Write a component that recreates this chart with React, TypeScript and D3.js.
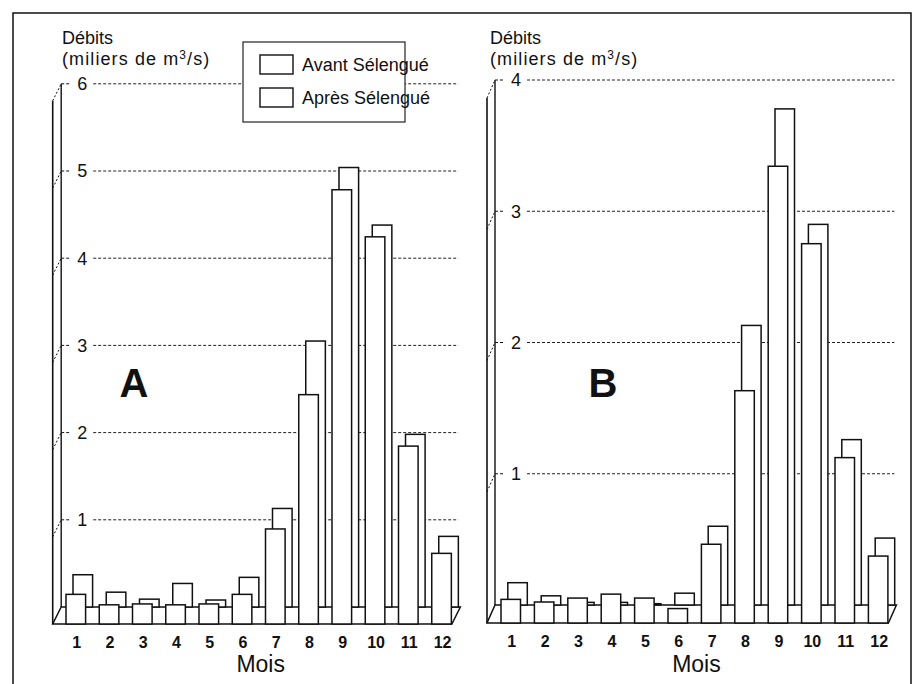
import React, { useEffect, useRef } from "react";
import * as d3 from "d3";

// Débits mensuels (milliers de m3/s)
const months = ["1", "2", "3", "4", "5", "6", "7", "8", "9", "10", "11", "12"];
const legendLabels = ["Avant Sélengué", "Après Sélengué"];

const avantA = [0.34, 0.22, 0.23, 0.22, 0.23, 0.34, 1.09, 2.63, 4.98, 4.44, 2.04, 0.81];
const apresA = [0.37, 0.17, 0.09, 0.27, 0.08, 0.34, 1.13, 3.05, 5.04, 4.38, 1.98, 0.81];
const avantB = [0.18, 0.16, 0.19, 0.22, 0.19, 0.11, 0.6, 1.77, 3.48, 2.89, 1.26, 0.51];
const apresB = [0.17, 0.07, 0.02, 0.02, 0.01, 0.09, 0.6, 2.13, 3.78, 2.9, 1.26, 0.51];

const ticksA = [1, 2, 3, 4, 5, 6];
const ticksB = [1, 2, 3, 4];

const W = 919, H = 684;
const FONT = '"Liberation Sans", Arial, Helvetica, sans-serif';
const INK = "#111";

const panels = [
  {
    name: "A", front: avantA, back: apresA, ticks: ticksA, yMax: 6,
    wallX: 52.7, backBase: 607, top: 83.8, dx: 8.5, dy: 17,
    barX0: 66, step: 33.25, barW: 19.6, barDx: 7, titleX: 62, letterX: 134,
  },
  {
    name: "B", front: avantB, back: apresB, ticks: ticksB, yMax: 4,
    wallX: 487, backBase: 605, top: 80, dx: 8, dy: 18,
    barX0: 501, step: 33.4, barW: 19.5, barDx: 6.8, titleX: 490, letterX: 603,
  },
];

const App = () => {
  const svgRef = useRef<SVGSVGElement>(null);

  useEffect(() => {
    const svg = d3.select(svgRef.current).html("");

    svg.append("rect").attr("width", W).attr("height", H).attr("fill", "#fff");

    // outer frame
    svg.append("path")
      .attr("d", "M13,684 L13,13 L911,13 L911,684")
      .attr("fill", "none")
      .attr("stroke", INK)
      .attr("stroke-width", 1.5);

    panels.forEach((p) => {
      const g = svg.append("g");
      const frontBase = p.backBase + p.dy;
      const wallBack = p.wallX + p.dx;

      const y = d3.scaleLinear().domain([0, p.yMax]).range([p.backBase, p.top]);
      const pad = 1 - p.barW / p.step;
      const r0 = p.barX0 - (p.step - p.barW) / 2;
      const x = d3.scaleBand<string>()
        .domain(months)
        .range([r0, r0 + months.length * p.step])
        .paddingInner(pad)
        .paddingOuter(pad / 2);
      const bw = x.bandwidth();
      const frontRight = (x(months[months.length - 1]) as number) + bw + 0.5;
      const backRight = frontRight + p.dx;

      // gridlines + ticks
      const tg = g.append("g");
      p.ticks.forEach((t) => {
        const yy = y(t);
        tg.append("line")
          .attr("x1", p.wallX).attr("y1", yy + p.dy)
          .attr("x2", wallBack).attr("y2", yy)
          .attr("stroke", INK).attr("stroke-width", 1).attr("stroke-dasharray", "2,2");
        tg.append("line")
          .attr("x1", wallBack).attr("y1", yy)
          .attr("x2", wallBack + 8).attr("y2", yy)
          .attr("stroke", INK).attr("stroke-width", 1).attr("stroke-dasharray", "3,2");
        tg.append("line")
          .attr("x1", wallBack + 32).attr("y1", yy)
          .attr("x2", backRight - 2).attr("y2", yy)
          .attr("stroke", "#222").attr("stroke-width", 1).attr("stroke-dasharray", "3,2");
        tg.append("text")
          .attr("x", wallBack + 21).attr("y", yy)
          .attr("dy", "0.36em")
          .attr("text-anchor", "middle")
          .style("font-family", FONT).style("font-size", "18px")
          .attr("fill", INK)
          .text(t);
      });

      // left wall
      g.append("line")
        .attr("x1", p.wallX).attr("y1", frontBase)
        .attr("x2", p.wallX).attr("y2", y(p.yMax) + p.dy)
        .attr("stroke", INK).attr("stroke-width", 1.6);
      g.append("line")
        .attr("x1", wallBack).attr("y1", p.backBase)
        .attr("x2", wallBack).attr("y2", y(p.yMax))
        .attr("stroke", INK).attr("stroke-width", 1.4);

      // floor
      g.append("path")
        .attr("d", `M${p.wallX},${frontBase} L${frontRight},${frontBase} L${backRight},${p.backBase} L${wallBack},${p.backBase} Z`)
        .attr("fill", "#fff")
        .attr("stroke", INK)
        .attr("stroke-width", 1.5);

      // back row (Après)
      g.append("g")
        .selectAll("rect")
        .data(p.back)
        .enter()
        .append("rect")
        .attr("x", (_, i) => (x(months[i]) as number) + p.barDx)
        .attr("y", (d) => y(d))
        .attr("width", bw)
        .attr("height", (d) => p.backBase - y(d))
        .attr("fill", "#fff")
        .attr("stroke", INK)
        .attr("stroke-width", 1.5);

      // front row (Avant)
      g.append("g")
        .selectAll("rect")
        .data(p.front)
        .enter()
        .append("rect")
        .attr("x", (_, i) => x(months[i]) as number)
        .attr("y", (d) => y(d) + p.dy)
        .attr("width", bw)
        .attr("height", (d) => p.backBase - y(d))
        .attr("fill", "#fff")
        .attr("stroke", INK)
        .attr("stroke-width", 1.5);

      // month labels
      g.append("g")
        .selectAll("text")
        .data(months)
        .enter()
        .append("text")
        .attr("x", (d) => (x(d) as number) + bw / 2 + 1)
        .attr("y", frontBase + 24)
        .attr("text-anchor", "middle")
        .style("font-family", FONT).style("font-size", "16px").style("font-weight", "bold")
        .attr("fill", INK)
        .text((d) => d);

      g.append("text")
        .attr("x", ((x("6") as number) + (x("7") as number)) / 2 + bw / 2 + 2)
        .attr("y", 672)
        .attr("text-anchor", "middle")
        .style("font-family", FONT).style("font-size", "23px")
        .attr("fill", INK)
        .text("Mois");

      // axis title
      g.append("text")
        .attr("x", p.titleX).attr("y", 44)
        .style("font-family", FONT).style("font-size", "18px")
        .attr("fill", INK)
        .text("Débits");
      const t2 = g.append("text")
        .attr("x", p.titleX).attr("y", 65)
        .style("font-family", FONT).style("font-size", "18px")
        .style("letter-spacing", "1.1px")
        .attr("fill", INK);
      t2.append("tspan").text("(miliers de m");
      t2.append("tspan").attr("dy", -6).style("font-size", "12px").text("3");
      t2.append("tspan").attr("dy", 6).text("/s)");

      // panel letter
      g.append("text")
        .attr("x", p.letterX).attr("y", 397)
        .attr("text-anchor", "middle")
        .style("font-family", FONT).style("font-size", "40px").style("font-weight", "bold")
        .attr("fill", INK)
        .text(p.name);
    });

    // legend (panel A)
    const lg = svg.append("g");
    lg.append("rect")
      .attr("x", 243).attr("y", 42).attr("width", 162).attr("height", 80)
      .attr("fill", "#fff").attr("stroke", "#222").attr("stroke-width", 1.2);
    legendLabels.forEach((lab, i) => {
      lg.append("rect")
        .attr("x", 260).attr("y", 55 + i * 33).attr("width", 33).attr("height", 19)
        .attr("fill", "#fff").attr("stroke", INK).attr("stroke-width", 1.4);
      lg.append("text")
        .attr("x", 302).attr("y", 71 + i * 33)
        .style("font-family", FONT).style("font-size", "18px")
        .attr("fill", INK)
        .text(lab);
    });
  }, []);

  return (
    <svg
      ref={svgRef}
      width={W}
      height={H}
      style={{ position: "absolute", left: 0, top: 0 }}
    />
  );
};

export default App;
